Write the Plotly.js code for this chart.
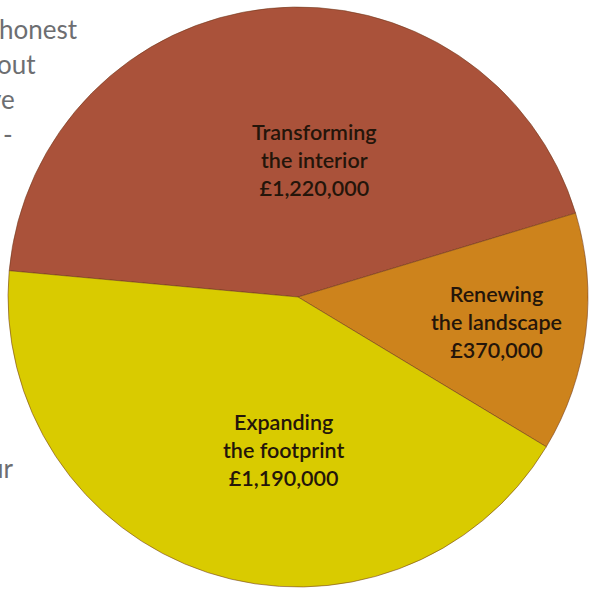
<!DOCTYPE html>
<html>
<head>
<meta charset="utf-8">
<script src="https://cdn.plot.ly/plotly-3.0.1.min.js"></script>
<style>
  html, body { margin: 0; padding: 0; background: #ffffff; }
  #chart { width: 592px; height: 589px; }
</style>
</head>
<body>
<div id="chart"></div>
<script>
// ---- data ----
var categories = ["Transforming<br>the interior", "Renewing<br>the landscape", "Expanding<br>the footprint"];
var amounts = [1220000, 370000, 1190000];
var sliceColors = ["#AA523A", "#CD831C", "#D9CB00"];
// fragments of the neighbouring paragraph text visible at the left edge
var sideText = ["honest", "out", "ve", "t -", "ur"];

// ---- layout helpers ----
var W = 592, H = 589;
function px(x) { return x / W; }
function py(y) { return 1 - y / H; }

var labelPos = [[314, 160], [497, 322], [284, 450]];
var sidePos = [[80, 29], [38, 64], [17, 99], [15, 134], [15, 468]];

function money(v) { return "£" + v.toLocaleString("en-GB"); }

var annotations = [];
for (var i = 0; i < categories.length; i++) {
  annotations.push({
    text: categories[i] + "<br>" + money(amounts[i]),
    xref: "paper", yref: "paper",
    x: px(labelPos[i][0]), y: py(labelPos[i][1]),
    xanchor: "center", yanchor: "middle",
    showarrow: false,
    align: "center",
    font: { family: "Lato, 'Open Sans', sans-serif", size: 21.5, weight: 600, color: "#24150a" }
  });
}
for (var j = 0; j < sideText.length; j++) {
  annotations.push({
    text: sideText[j],
    xref: "paper", yref: "paper",
    x: px(sidePos[j][0]), y: py(sidePos[j][1]),
    xanchor: "right", yanchor: "middle",
    showarrow: false,
    font: { family: "Lato, 'Open Sans', sans-serif", size: 26, color: "#6d6e71" }
  });
}

var trace = {
  type: "pie",
  labels: categories,
  values: amounts,
  sort: false,
  direction: "clockwise",
  rotation: -84.8,
  textinfo: "none",
  hoverinfo: "skip",
  marker: { colors: sliceColors, line: { color: "rgba(110,55,25,0.55)", width: 1 } },
  domain: { x: [px(8), px(588)], y: [py(587), py(7)] },
  showlegend: false
};

var layout = {
  width: W, height: H,
  margin: { l: 0, r: 0, t: 0, b: 0, pad: 0 },
  paper_bgcolor: "#ffffff",
  plot_bgcolor: "#ffffff",
  showlegend: false,
  annotations: annotations
};

Plotly.newPlot("chart", [trace], layout, { staticPlot: true, displayModeBar: false });
</script>
</body>
</html>
